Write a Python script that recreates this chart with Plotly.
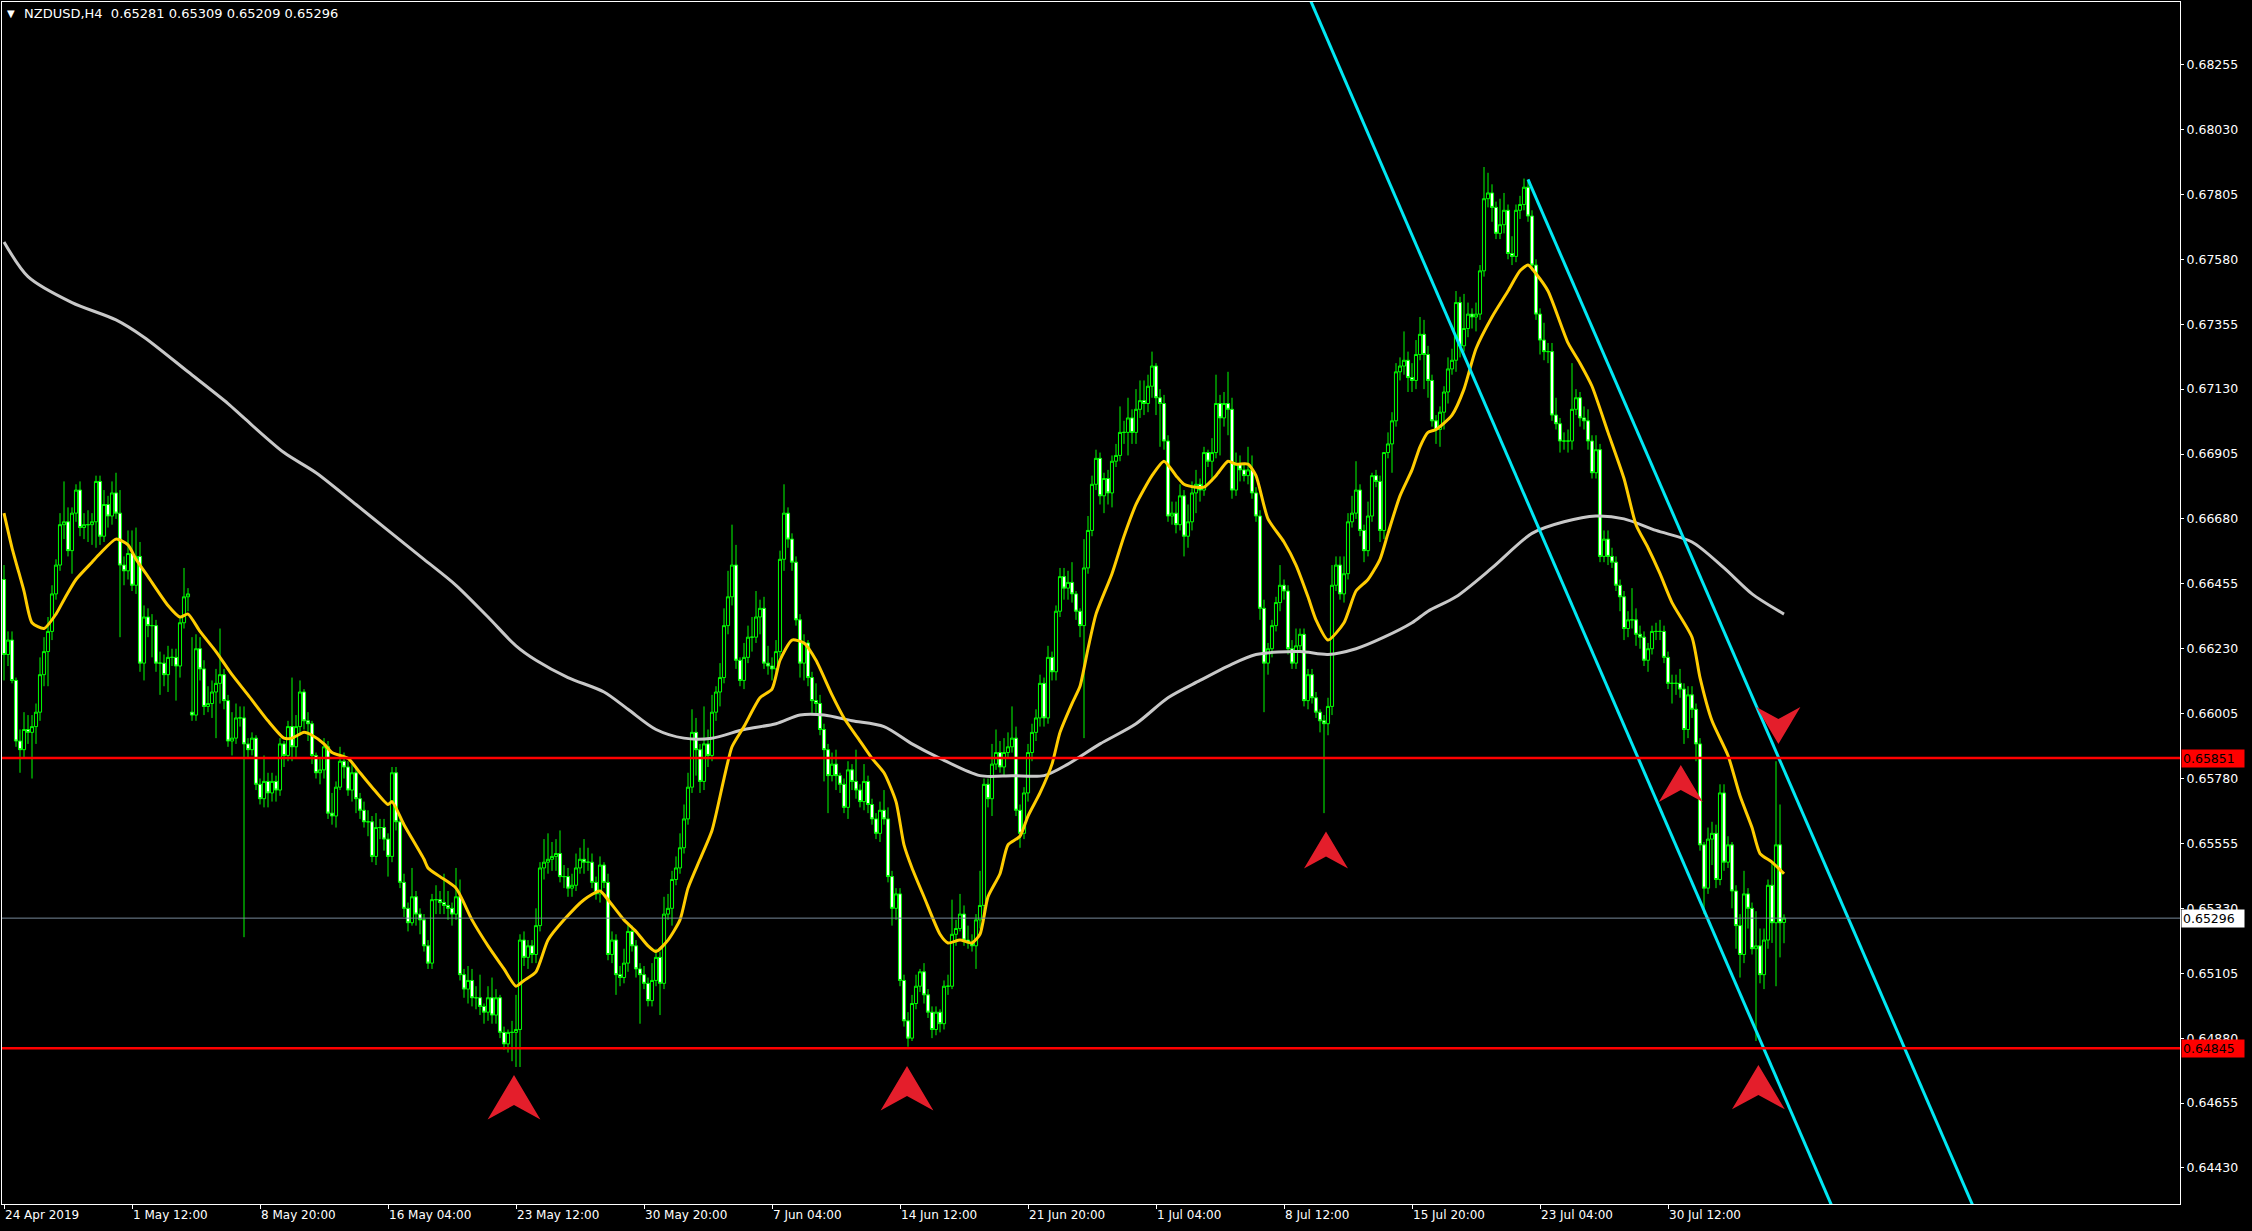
import plotly.graph_objects as go

# ---------------- data (prices in pips: value / 10000) ----------------
opens = [
6647,6621,6626,6612,6591,6588,6595,6594,6596,6601,
6614,6622,6629,6642,6652,6666,6667,6657,6670,6678,
6665,6666,6666,6667,6681,6662,6673,6669,6677,6670,
6652,6650,6656,6645,6655,6618,6634,6631,6631,6618,
6618,6614,6620,6620,6617,6632,6641,6601,6600,6623,
6616,6603,6604,6608,6611,6614,6605,6591,6592,6599,
6599,6590,6588,6592,6576,6571,6577,6573,6577,6574,
6590,6586,6596,6589,6596,6608,6598,6597,6586,6580,
6581,6589,6566,6565,6575,6584,6582,6574,6580,6571,
6567,6563,6563,6551,6561,6561,6557,6551,6580,6563,
6542,6533,6528,6537,6531,6529,6520,6514,6536,6536,
6535,6534,6533,6531,6537,6510,6505,6508,6502,6502,
6499,6497,6502,6496,6502,6490,6486,6490,6490,6491,
6522,6516,6520,6517,6527,6547,6549,6550,6551,6552,
6544,6544,6540,6541,6547,6550,6549,6549,6542,6538,
6548,6542,6517,6522,6510,6509,6514,6525,6520,6512,
6510,6507,6501,6508,6516,6507,6531,6533,6543,6547,
6554,6564,6575,6594,6588,6577,6590,6586,6601,6608,
6613,6631,6641,6652,6619,6612,6620,6627,6627,6634,
6637,6618,6617,6616,6622,6654,6670,6661,6653,6633,
6618,6625,6613,6605,6604,6595,6588,6579,6583,6579,
6576,6568,6581,6577,6574,6570,6577,6569,6564,6559,
6567,6564,6544,6533,6538,6508,6494,6488,6500,6506,
6511,6503,6497,6491,6497,6493,6506,6506,6524,6526,
6531,6522,6521,6520,6529,6534,6576,6571,6583,6587,
6582,6587,6589,6592,6567,6559,6573,6587,6594,6599,
6611,6599,6620,6615,6636,6648,6644,6646,6642,6636,
6631,6651,6664,6680,6689,6676,6682,6677,6688,6690,
6698,6698,6703,6698,6706,6709,6708,6714,6721,6710,
6708,6695,6669,6670,6666,6676,6662,6667,6677,6680,
6678,6691,6688,6691,6708,6703,6708,6706,6678,6687,
6685,6683,6685,6677,6669,6637,6618,6623,6631,6639,
6645,6643,6623,6618,6624,6628,6605,6614,6606,6601,
6598,6597,6603,6645,6652,6642,6649,6667,6670,6678,
6664,6657,6669,6683,6681,6664,6691,6694,6702,6719,
6721,6723,6717,6716,6725,6732,6725,6716,6702,6699,
6705,6712,6720,6723,6743,6728,6734,6739,6738,6739,
6754,6779,6781,6776,6767,6770,6775,6760,6759,6775,
6777,6783,6773,6756,6739,6730,6726,6726,6704,6701,
6695,6695,6695,6706,6710,6703,6702,6695,6684,6692,
6655,6661,6655,6653,6645,6641,6630,6633,6633,6628,
6627,6619,6623,6629,6629,6629,6620,6611,6611,6611,
6609,6595,6607,6602,6590,6555,6540,6557,6559,6543,
6573,6549,6555,6539,6527,6517,6538,6533,6519,6520,
6510,6522,6541,6528,6555,6528.1]
highs = [
6652,6629,6629,6613,6595,6601,6600,6600,6604,6620,
6627,6634,6645,6654,6670,6681,6672,6672,6680,6681,
6670,6671,6670,6683,6683,6678,6676,6681,6684,6678,
6655,6664,6664,6665,6660,6638,6637,6635,6633,6622,
6621,6624,6623,6623,6634,6651,6644,6627,6628,6627,
6619,6610,6612,6616,6630,6616,6607,6601,6604,6603,
6603,6592,6594,6593,6578,6586,6580,6580,6579,6592,
6591,6598,6613,6600,6612,6609,6601,6598,6587,6585,
6592,6591,6573,6577,6589,6587,6584,6583,6582,6573,
6570,6567,6565,6566,6564,6564,6559,6582,6582,6565,
6545,6535,6547,6539,6533,6531,6522,6538,6541,6539,
6545,6539,6535,6547,6543,6512,6513,6512,6506,6510,
6500,6506,6509,6505,6503,6492,6491,6494,6503,6524,
6525,6522,6522,6533,6549,6557,6559,6556,6557,6560,
6548,6547,6545,6552,6554,6557,6554,6552,6544,6551,
6549,6545,6525,6524,6513,6519,6528,6527,6522,6514,
6513,6509,6514,6519,6518,6537,6538,6546,6551,6559,
6569,6580,6602,6599,6590,6603,6595,6607,6610,6618,
6637,6650,6666,6659,6620,6625,6631,6634,6643,6640,
6641,6624,6620,6626,6657,6680,6672,6663,6655,6635,
6628,6626,6615,6611,6607,6597,6590,6587,6588,6580,
6578,6584,6583,6588,6576,6583,6579,6571,6566,6570,
6574,6568,6546,6540,6540,6510,6497,6503,6510,6512,
6514,6505,6499,6499,6498,6508,6510,6536,6529,6538,
6534,6527,6524,6531,6546,6578,6578,6590,6595,6591,
6592,6594,6603,6596,6569,6575,6590,6597,6602,6614,
6613,6624,6622,6638,6651,6651,6650,6653,6643,6637,
6661,6669,6683,6692,6691,6684,6685,6690,6694,6707,
6702,6710,6706,6713,6716,6716,6718,6726,6722,6713,
6711,6697,6674,6674,6680,6678,6673,6681,6685,6682,
6693,6692,6696,6718,6711,6712,6719,6710,6691,6690,
6687,6693,6690,6679,6671,6640,6625,6633,6641,6652,
6647,6645,6626,6630,6630,6630,6616,6616,6608,6602,
6600,6606,6652,6655,6655,6655,6670,6676,6688,6680,
6666,6674,6684,6685,6683,6691,6698,6705,6722,6724,
6733,6726,6722,6730,6738,6737,6728,6718,6704,6707,
6714,6724,6727,6747,6745,6746,6743,6741,6743,6756,
6790,6788,6784,6778,6779,6781,6777,6766,6777,6780,
6786,6785,6775,6758,6741,6736,6729,6729,6710,6703,
6698,6699,6722,6713,6712,6707,6706,6697,6697,6694,
6664,6664,6658,6655,6647,6643,6636,6644,6637,6631,
6629,6625,6631,6632,6633,6631,6622,6614,6614,6616,
6611,6610,6610,6604,6592,6556,6561,6563,6562,6576,
6576,6558,6556,6541,6531,6546,6540,6535,6532,6526,
6526,6543,6549,6584,6569,6530.9]
lows = [
6612,6617,6611,6589,6580,6585,6590,6578,6590,6598,
6610,6610,6626,6640,6650,6661,6655,6649,6667,6662,
6661,6660,6659,6658,6659,6660,6665,6666,6668,6627,
6645,6647,6643,6642,6615,6612,6627,6620,6615,6607,
6610,6608,6617,6605,6613,6630,6636,6598,6598,6612,
6600,6601,6599,6592,6604,6602,6589,6586,6590,6596,
6523,6585,6586,6574,6569,6568,6568,6570,6570,6572,
6582,6584,6584,6585,6593,6595,6591,6583,6578,6576,
6578,6564,6562,6561,6574,6578,6572,6570,6566,6564,
6561,6558,6549,6548,6557,6553,6544,6549,6560,6540,
6530,6525,6527,6527,6524,6518,6512,6512,6531,6531,
6531,6529,6527,6529,6508,6502,6500,6499,6498,6496,
6493,6494,6493,6493,6488,6484,6483,6480,6478,6478,
6513,6512,6514,6514,6525,6543,6545,6546,6546,6542,
6540,6537,6537,6539,6545,6545,6546,6540,6536,6535,
6540,6515,6514,6503,6506,6507,6511,6518,6509,6493,
6505,6499,6499,6506,6496,6505,6529,6527,6541,6545,
6552,6562,6573,6579,6573,6574,6582,6584,6598,6603,
6611,6628,6638,6616,6610,6609,6618,6622,6625,6628,
6616,6614,6612,6614,6620,6650,6658,6650,6631,6613,
6612,6610,6600,6600,6593,6577,6566,6577,6574,6573,
6566,6564,6574,6571,6568,6567,6566,6562,6557,6556,
6562,6542,6527,6529,6506,6492,6485,6487,6498,6504,
6500,6495,6488,6489,6490,6491,6503,6505,6520,6525,
6520,6519,6518,6512,6526,6530,6568,6565,6581,6580,
6579,6585,6587,6565,6554,6557,6570,6584,6591,6596,
6596,6597,6612,6612,6634,6640,6640,6639,6633,6627,
6592,6649,6662,6678,6673,6670,6673,6672,6686,6688,
6694,6690,6694,6694,6703,6704,6705,6710,6704,6693,
6692,6667,6666,6663,6664,6655,6658,6664,6670,6674,
6676,6686,6681,6689,6690,6700,6697,6675,6676,6681,
6681,6680,6675,6667,6633,6601,6614,6620,6629,6636,
6640,6621,6616,6616,6622,6603,6602,6604,6599,6594,
6566,6593,6600,6643,6640,6639,6647,6665,6668,6662,
6653,6655,6667,6679,6660,6661,6689,6684,6700,6716,
6718,6712,6712,6713,6723,6713,6710,6700,6694,6693,
6699,6708,6718,6719,6724,6726,6731,6734,6733,6737,
6752,6776,6771,6765,6765,6767,6758,6756,6757,6772,
6775,6771,6754,6737,6725,6723,6722,6702,6699,6691,
6692,6691,6692,6704,6700,6699,6692,6682,6682,6653,
6653,6652,6651,6643,6636,6626,6627,6630,6624,6623,
6617,6615,6621,6626,6626,6618,6609,6604,6607,6606,
6590,6592,6599,6584,6553,6531,6538,6548,6540,6541,
6546,6547,6533,6519,6509,6514,6526,6517,6487,6507,
6505,6519,6521,6506,6516,6520.9]
closes = [
6621,6626,6612,6591,6588,6595,6594,6596,6601,6614,
6622,6629,6642,6652,6666,6667,6657,6670,6678,6665,
6666,6666,6667,6681,6662,6673,6669,6677,6670,6652,
6650,6656,6645,6655,6618,6634,6631,6631,6618,6618,
6614,6620,6620,6617,6632,6641,6642,6600,6623,6616,
6603,6604,6608,6611,6614,6605,6591,6592,6599,6599,
6590,6588,6592,6576,6571,6577,6573,6577,6574,6590,
6586,6596,6589,6596,6608,6598,6597,6586,6580,6581,
6589,6566,6565,6575,6584,6582,6574,6580,6571,6567,
6563,6563,6551,6561,6561,6557,6551,6580,6563,6542,
6533,6528,6537,6531,6529,6520,6514,6536,6536,6535,
6534,6533,6531,6537,6510,6505,6508,6502,6502,6499,
6497,6502,6496,6502,6490,6486,6490,6490,6491,6522,
6516,6520,6517,6527,6547,6549,6550,6551,6552,6544,
6544,6540,6541,6547,6550,6549,6549,6542,6538,6548,
6542,6517,6522,6510,6509,6514,6525,6520,6512,6510,
6507,6501,6508,6516,6507,6531,6533,6543,6547,6554,
6564,6575,6594,6588,6577,6590,6586,6601,6608,6613,
6631,6641,6652,6619,6612,6620,6627,6627,6634,6637,
6618,6617,6616,6622,6654,6670,6661,6653,6633,6618,
6625,6613,6605,6604,6595,6588,6579,6583,6579,6576,
6568,6581,6577,6574,6570,6577,6569,6564,6559,6567,
6564,6544,6533,6538,6508,6494,6488,6500,6506,6511,
6503,6497,6491,6497,6493,6506,6506,6524,6526,6531,
6522,6521,6520,6529,6534,6576,6571,6583,6587,6582,
6587,6589,6592,6567,6559,6573,6587,6594,6599,6611,
6599,6620,6615,6636,6648,6644,6646,6642,6636,6631,
6651,6664,6680,6689,6676,6682,6677,6688,6690,6698,
6698,6703,6698,6706,6709,6708,6714,6721,6710,6708,
6695,6669,6670,6666,6676,6662,6667,6677,6680,6678,
6691,6688,6691,6708,6703,6708,6706,6678,6687,6685,
6683,6685,6677,6669,6637,6618,6623,6631,6639,6645,
6643,6623,6618,6624,6628,6605,6614,6606,6601,6598,
6597,6603,6645,6652,6642,6649,6667,6670,6678,6664,
6657,6669,6683,6681,6664,6691,6694,6702,6719,6721,
6723,6717,6716,6725,6732,6725,6716,6702,6699,6705,
6712,6720,6723,6743,6728,6734,6739,6738,6739,6754,
6779,6781,6776,6767,6770,6775,6760,6759,6775,6777,
6783,6773,6756,6739,6730,6726,6726,6704,6701,6695,
6695,6695,6706,6710,6703,6702,6695,6684,6692,6655,
6661,6655,6653,6645,6641,6630,6633,6633,6628,6627,
6619,6623,6629,6629,6629,6620,6611,6611,6611,6609,
6595,6607,6602,6590,6555,6540,6557,6559,6543,6573,
6549,6555,6539,6527,6517,6538,6533,6519,6520,6510,
6522,6541,6528,6555,6528,6529.6]

# moving averages (bar index, pips)
ma_fast_bars = [0,2,5,7,10,13,15,18,22,24,28,31,33,36,41,44,46,49,53,57,
                61,66,70,72,75,77,80,82,86,89,92,96,97,100,105,106,109,113,117,121,
                125,128,130,133,136,140,145,149,151,155,158,161,163,166,169,171,174,177,180,182,
                185,189,192,194,197,200,203,207,210,214,217,220,223,225,227,230,234,236,239,242,
                244,246,249,251,254,256,259,262,264,267,269,271,273,277,280,283,287,290,293,295,
                298,300,303,306,308,311,313,316,320,323,326,328,331,335,338,341,344,346,349,352,
                354,356,358,362,365,368,372,376,379,381,383,386,391,394,397,401,405,408,411,414,
                417,422,424,427,431,434,437,439,442,445]
ma_fast_pips = [6670,6658,6643,6632,6630,6635,6640,6647,6653,6656,6661,6659,6654,6648,6638,6634,6635,6629,6622,6614,
                6607,6598,6592,6592,6594,6593,6590,6587,6585,6580,6575,6569,6570,6562,6550,6547,6544,6540,6529,6520,
                6512,6506,6508,6511,6522,6529,6536,6539,6536,6529,6525,6520,6518,6522,6529,6540,6550,6560,6578,6589,
                6596,6606,6609,6619,6626,6625,6619,6607,6599,6591,6585,6580,6570,6555,6547,6537,6524,6521,6522,6521,
                6524,6537,6545,6555,6558,6565,6573,6583,6594,6604,6610,6623,6635,6649,6662,6673,6683,6688,6683,6680,
                6679,6679,6683,6688,6687,6687,6683,6668,6660,6652,6641,6633,6626,6632,6643,6647,6654,6663,6676,6685,
                6693,6698,6699,6704,6713,6727,6738,6747,6754,6756,6753,6747,6729,6722,6714,6698,6682,6666,6658,6649,
                6639,6627,6613,6598,6586,6572,6561,6552,6549,6545]
ma_slow_bars = [0,6,17,28,35,46,56,60,70,78,88,96,105,113,121,128,133,141,150,156,
                163,170,177,185,193,199,205,212,220,227,234,244,252,260,266,274,283,291,299,306,
                313,324,331,338,345,352,356,363,372,382,390,398,405,413,422,430,437,445]
ma_slow_pips = [6764,6752,6743,6737,6731,6719,6708,6703,6691,6684,6673,6664,6654,6645,6634,6624,6619,6613,6608,6602,
                6595,6592,6592,6595,6597,6600,6600,6598,6596,6590,6585,6579,6579,6579,6583,6590,6597,6606,6612,6617,
                6621,6622,6621,6623,6627,6632,6636,6641,6651,6663,6667,6669,6668,6664,6660,6651,6642,6635]

x_tick_bars = [0, 32, 64, 96, 128, 160, 192, 224, 256, 288, 320, 352, 384, 416]
x_tick_labels = ["24 Apr 2019", "1 May 12:00", "8 May 20:00", "16 May 04:00", "23 May 12:00",
                 "30 May 20:00", "7 Jun 04:00", "14 Jun 12:00", "21 Jun 20:00", "1 Jul 04:00",
                 "8 Jul 12:00", "15 Jul 20:00", "23 Jul 04:00", "30 Jul 12:00"]
y_tick_values = [0.64430, 0.64655, 0.64880, 0.65105, 0.65330, 0.65555, 0.65780, 0.66005, 0.66230,
                 0.66455, 0.66680, 0.66905, 0.67130, 0.67355, 0.67580, 0.67805, 0.68030, 0.68255]

levels = [0.65851, 0.64845]                         # horizontal support / resistance
channel_lower_bars = [320, 470]
channel_lower_prices = [0.6869, 0.6388]
channel_upper_bars = [381, 500]
channel_upper_prices = [0.67857, 0.6405]
arrow_up_bars = [127.5, 225.75, 330.5, 419.2, 438.6]
arrow_up_prices = [0.64752, 0.64783, 0.65596, 0.65827, 0.64787]
arrow_down_bars = [443.6]
arrow_down_prices = [0.65900]

symbol_name = "NZDUSD,H4"

# ---------------- styling ----------------
FONT = "DejaVu Sans"
GREEN = "#00FF00"
YELLOW = "#FFCC00"
SILVER = "#C8C8C8"
AQUA = "#00E8F4"
RED = "#FF0000"
ARROW_RED = "#E41E2B"
arrow_up_scale = [1.2, 1.2, 1.0, 1.0, 1.2]   # drawing size of each up arrow
arrow_down_scale = [1.0]


def px(v):
    return [p / 10000.0 for p in v]


def arrow_path(scale, down=False):
    s = -1 if down else 1
    w, h, n = 22 * scale, 37 * scale, 25 * scale
    return (f"M0,0 L{w:.1f},{-s*h:.1f} L0,{-s*n:.1f} L{-w:.1f},{-s*h:.1f} Z")


O, H, L, C = px(opens), px(highs), px(lows), px(closes)
bars = list(range(len(C)))

fig = go.Figure()
fig.add_trace(go.Candlestick(
    x=bars, open=O, high=H, low=L, close=C,
    increasing=dict(line=dict(color=GREEN, width=1), fillcolor="#000000"),
    decreasing=dict(line=dict(color=GREEN, width=1), fillcolor="#FFFFFF"),
    whiskerwidth=0, hoverinfo="skip", showlegend=False))

fig.add_trace(go.Scatter(x=ma_slow_bars, y=px(ma_slow_pips), mode="lines",
                         line=dict(color=SILVER, width=3, shape="spline", smoothing=0.8),
                         hoverinfo="skip", showlegend=False))
fig.add_trace(go.Scatter(x=ma_fast_bars, y=px(ma_fast_pips), mode="lines",
                         line=dict(color=YELLOW, width=3, shape="spline", smoothing=0.6),
                         hoverinfo="skip", showlegend=False))

for bx, by in ((channel_lower_bars, channel_lower_prices), (channel_upper_bars, channel_upper_prices)):
    fig.add_trace(go.Scatter(x=bx, y=by, mode="lines", line=dict(color=AQUA, width=3),
                             hoverinfo="skip", showlegend=False))

shapes = []
# current price line
shapes.append(dict(type="line", xref="paper", x0=0, x1=1, yref="y", y0=C[-1], y1=C[-1],
                   line=dict(color="#778899", width=1), layer="above"))
for lv in levels:
    shapes.append(dict(type="line", xref="paper", x0=0, x1=1, yref="y", y0=lv, y1=lv,
                       line=dict(color=RED, width=2.5), layer="above"))

for b, p, sc in zip(arrow_up_bars, arrow_up_prices, arrow_up_scale):
    shapes.append(dict(type="path", xref="x", yref="y", xsizemode="pixel", ysizemode="pixel",
                       xanchor=b, yanchor=p, path=arrow_path(sc), fillcolor=ARROW_RED,
                       line=dict(width=0), layer="above"))
for b, p, sc in zip(arrow_down_bars, arrow_down_prices, arrow_down_scale):
    shapes.append(dict(type="path", xref="x", yref="y", xsizemode="pixel", ysizemode="pixel",
                       xanchor=b, yanchor=p, path=arrow_path(sc, down=True), fillcolor=ARROW_RED,
                       line=dict(width=0), layer="above"))

annotations = []
header = f"{symbol_name}&nbsp; {O[-1]:.5f} {H[-1]:.5f} {L[-1]:.5f} {C[-1]:.5f}"
annotations.append(dict(xref="paper", yref="paper", x=0, y=1, xanchor="left", yanchor="top",
                        xshift=20, yshift=-2, text=header, showarrow=False,
                        font=dict(family=FONT, size=13, color="white")))
annotations.append(dict(xref="paper", yref="paper", x=0, y=1, xanchor="left", yanchor="top",
                        xshift=3, yshift=-4, text="▼", showarrow=False,
                        font=dict(family=FONT, size=10, color="white")))
for lv in levels:
    annotations.append(dict(xref="paper", x=1, xanchor="left", xshift=1, yref="y", y=lv,
                            yanchor="middle", text=f"{lv:.5f}", showarrow=False, bgcolor=RED,
                            borderpad=1, width=60, align="left",
                            font=dict(family=FONT, size=12.5, color="#000000")))
annotations.append(dict(xref="paper", x=1, xanchor="left", xshift=1, yref="y", y=C[-1],
                        yanchor="middle", text=f"{C[-1]:.5f}", showarrow=False, bgcolor="#FFFFFF",
                        borderpad=1, width=60, align="left",
                        font=dict(family=FONT, size=12.5, color="#000000")))

fig.update_layout(
    width=2252, height=1231,
    margin=dict(l=2, r=72, t=2, b=27, pad=0),
    paper_bgcolor="#000000", plot_bgcolor="#000000",
    font=dict(family=FONT, size=12, color="white"),
    showlegend=False, hovermode=False,
    boxgap=0.22, boxgroupgap=0,
    shapes=shapes, annotations=annotations,
    xaxis=dict(range=[-0.5, 544], tickmode="array", tickvals=x_tick_bars, ticktext=x_tick_labels,
               ticks="outside", ticklen=4, tickcolor="white", tickwidth=1,
               ticklabelposition="outside right",
               showline=True, linecolor="white", linewidth=1, mirror=True,
               showgrid=False, zeroline=False, rangeslider=dict(visible=False),
               tickfont=dict(family=FONT, size=12, color="white")),
    yaxis=dict(side="right", range=[0.64305, 0.68472], tickmode="array", tickvals=y_tick_values,
               tickformat=".5f", ticks="outside", ticklen=3, tickcolor="white",
               showline=True, linecolor="white", linewidth=1, mirror=True,
               showgrid=False, zeroline=False,
               tickfont=dict(family=FONT, size=12.5, color="white")),
)

fig.write_html("out.html", config={"displayModeBar": False},
               post_script="document.body.style.margin='0';document.body.style.background='#000';document.body.style.overflow='hidden';")
